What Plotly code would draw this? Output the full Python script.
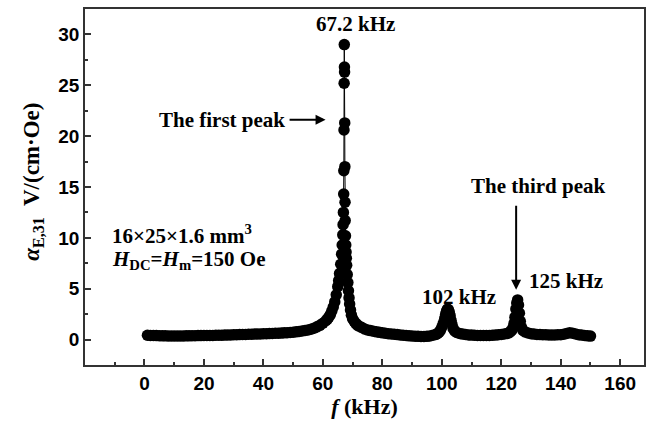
import plotly.graph_objects as go

# Frequency (kHz) and magnetoelectric coefficient alpha_E,31 (V/(cm·Oe)),
# listed segment by segment so that each frequency row matches the value row below it.
freq = (
    [1, 2, 3, 4, 5, 6, 7, 8, 9, 10, 11, 12, 13, 14, 15, 16, 17, 18, 19, 20,
     21, 22, 23, 24, 25, 26, 27, 28, 29, 30, 31, 32, 33, 34, 35, 36, 37, 38, 39, 40,
     41, 42, 43, 44, 45, 46, 47, 48, 49, 50, 51, 52, 53, 54, 55, 56, 57, 58, 59, 60]
    + [61, 61.5, 62, 62.5, 63, 63.5, 64, 64.5, 65, 65.3, 65.6, 66, 66.3, 66.5, 66.7, 66.8]
    + [66.9, 67.0, 67.05, 67.1, 67.15, 67.2, 67.25, 67.3, 67.35, 67.4, 67.45, 67.5, 67.6]
    + [67.7, 67.8, 67.9, 68.0, 68.2, 68.4, 68.6, 68.8, 69.0, 69.3, 69.6, 70.0, 70.5, 71]
    + [71.5, 72, 73, 74, 75, 76, 77, 78, 79, 80, 81, 82, 83, 84, 85, 86, 87, 88, 89, 90]
    + [91, 92, 93, 94, 95, 96, 97, 98, 98.5, 99, 99.5, 100, 100.5, 101, 101.3, 101.6]
    + [101.9, 102.2, 102.5, 102.8, 103.1, 103.4, 103.8, 104.3, 105, 106, 107, 108, 109]
    + [110, 111, 112, 113, 114, 115, 116, 117, 118, 119, 120, 121, 122, 122.5, 123]
    + [123.5, 124, 124.3, 124.6, 124.9, 125.2, 125.5, 125.8, 126.1, 126.4, 126.8, 127.3]
    + [128, 129, 130, 131, 132, 133, 134, 135, 136, 137, 138, 139, 140, 141, 142, 143]
    + [144, 145, 146, 147, 148, 149, 150]
)
alpha = (
    [0.42, 0.41, 0.40, 0.39, 0.38, 0.37, 0.37, 0.36, 0.36, 0.36,
     0.36, 0.36, 0.36, 0.37, 0.37, 0.38, 0.38, 0.39, 0.39, 0.40,
     0.40, 0.41, 0.41, 0.42, 0.42, 0.43, 0.44, 0.45, 0.46, 0.47,
     0.48, 0.49, 0.50, 0.51, 0.52, 0.53, 0.54, 0.55, 0.56, 0.57,
     0.58, 0.59, 0.60, 0.62, 0.63, 0.64, 0.66, 0.68, 0.70, 0.72,
     0.76, 0.80, 0.84, 0.89, 0.95, 1.02, 1.12, 1.25, 1.40, 1.60]
    + [1.85, 2.0, 2.2, 2.45, 2.8, 3.2, 3.7, 4.4, 5.2, 5.8, 6.5, 7.4, 8.4, 9.3, 10.3, 11.3]
    + [12.5, 14.3, 16.6, 20.6, 25.2, 29.0, 26.8, 26.3, 21.3, 17.0, 13.5, 11.7, 10.2]
    + [9.3, 8.6, 8.0, 7.3, 6.4, 5.6, 4.8, 4.1, 3.5, 2.9, 2.4, 2.05, 1.8, 1.6]
    + [1.45, 1.35, 1.2, 1.05, 0.95, 0.88, 0.82, 0.76, 0.71, 0.66, 0.62, 0.58, 0.55, 0.52,
       0.49, 0.46, 0.43, 0.40, 0.37, 0.35]
    + [0.33, 0.32, 0.31, 0.30, 0.32, 0.36, 0.42, 0.50, 0.58, 0.70, 0.90, 1.2, 1.6, 2.1, 2.5, 2.8]
    + [3.0, 2.95, 2.7, 2.35, 1.9, 1.5, 1.1, 0.85, 0.70, 0.60, 0.54, 0.50, 0.46]
    + [0.44, 0.42, 0.41, 0.40, 0.40, 0.40, 0.41, 0.42, 0.44, 0.47, 0.50, 0.55, 0.60, 0.66, 0.75]
    + [0.9, 1.2, 1.6, 2.2, 3.0, 3.6, 3.9, 3.4, 2.6, 1.8, 1.2, 0.9]
    + [0.75, 0.65, 0.58, 0.54, 0.51, 0.49, 0.48, 0.47, 0.46, 0.46, 0.46, 0.47, 0.48, 0.52,
       0.60, 0.68]
    + [0.62, 0.55, 0.48, 0.44, 0.40, 0.37, 0.34]
)
assert len(freq) == len(alpha)

x_ticks = [0, 20, 40, 60, 80, 100, 120, 140, 160]
y_ticks = [0, 5, 10, 15, 20, 25, 30]

SERIF = "Liberation Serif"
SANS = "Liberation Sans"
AX = "#333333"

fig = go.Figure()
fig.add_trace(go.Scatter(
    x=freq, y=alpha, mode="lines+markers",
    line=dict(color="black", width=1),
    marker=dict(color="black", size=11.5, line=dict(width=0)),
    showlegend=False, cliponaxis=False,
))

tf = dict(family=SERIF, size=21, color="black")
annots = [
    dict(x=71.1, y=31.0, text="<b>67.2 kHz</b>", showarrow=False, font=tf),
    dict(x=48.0, y=21.6, text="<b>The first peak</b>", showarrow=False, font=tf, xanchor="right"),
    dict(x=60.9, y=21.6, ax=48.3, ay=21.6, axref="x", ayref="y", text="", showarrow=True,
         arrowhead=2, arrowsize=1, arrowwidth=2, arrowcolor="black", standoff=0, startstandoff=0),
    dict(x=132.5, y=15.1, text="<b>The third peak</b>", showarrow=False, font=tf),
    dict(x=125.0, y=4.9, ax=125.0, ay=13.3, axref="x", ayref="y", text="", showarrow=True,
         arrowhead=2, arrowsize=1, arrowwidth=2, arrowcolor="black", standoff=0, startstandoff=0),
    dict(x=141.8, y=5.8, text="<b>125 kHz</b>", showarrow=False, font=tf),
    dict(x=105.7, y=4.2, text="<b>102 kHz</b>", showarrow=False, font=tf),
    dict(x=-11.6, y=10.3, text="<b>16×25×1.6 mm<sup>3</sup></b>", showarrow=False, font=tf,
         xanchor="left"),
    dict(x=-11.6, y=7.8, text="<b><i>H</i><sub>DC</sub>=<i>H</i><sub>m</sub>=150 Oe</b>",
         showarrow=False, font=tf, xanchor="left"),
]
for a in annots:
    a.setdefault("xref", "x")
    a.setdefault("yref", "y")
# y-axis title as a rotated annotation (paper coordinates)
annots.append(dict(
    xref="paper", yref="paper", x=-0.093, y=0.515, xanchor="center", yanchor="middle",
    text="<b><i>α</i><sub>E,31</sub>  V/(cm·Oe)</b>", textangle=-90, showarrow=False,
    font=dict(family=SERIF, size=23, color="black"),
))
fig.update_layout(annotations=annots)

fig.update_xaxes(
    range=[-20, 168], tickvals=x_ticks, ticktext=[str(v) for v in x_ticks],
    ticks="inside", ticklen=6, tickwidth=1.5, tickcolor=AX,
    minor=dict(ticks="inside", ticklen=3, tickwidth=1.5, tickcolor=AX, dtick=10, tick0=-10),
    showline=True, linecolor=AX, linewidth=1.5, mirror=True,
    showgrid=False, zeroline=False,
    tickfont=dict(family=SANS, size=19, color="black", weight="bold"),
    title=dict(text="<b><i>f</i> (kHz)</b>", font=dict(family=SERIF, size=22, color="black"),
               standoff=6),
)
fig.update_yaxes(
    range=[-2.5, 32.5], tickvals=y_ticks, ticktext=[str(v) for v in y_ticks],
    ticks="inside", ticklen=6, tickwidth=1.5, tickcolor=AX,
    minor=dict(ticks="inside", ticklen=3, tickwidth=1.5, tickcolor=AX, dtick=2.5, tick0=0),
    showline=True, linecolor=AX, linewidth=1.5, mirror=True,
    showgrid=False, zeroline=False,
    tickfont=dict(family=SANS, size=19, color="black", weight="bold"),
)
fig.update_layout(
    width=653, height=424,
    margin=dict(l=85, r=7, t=7, b=59),
    plot_bgcolor="white", paper_bgcolor="white",
)

fig.write_html("out.html")
